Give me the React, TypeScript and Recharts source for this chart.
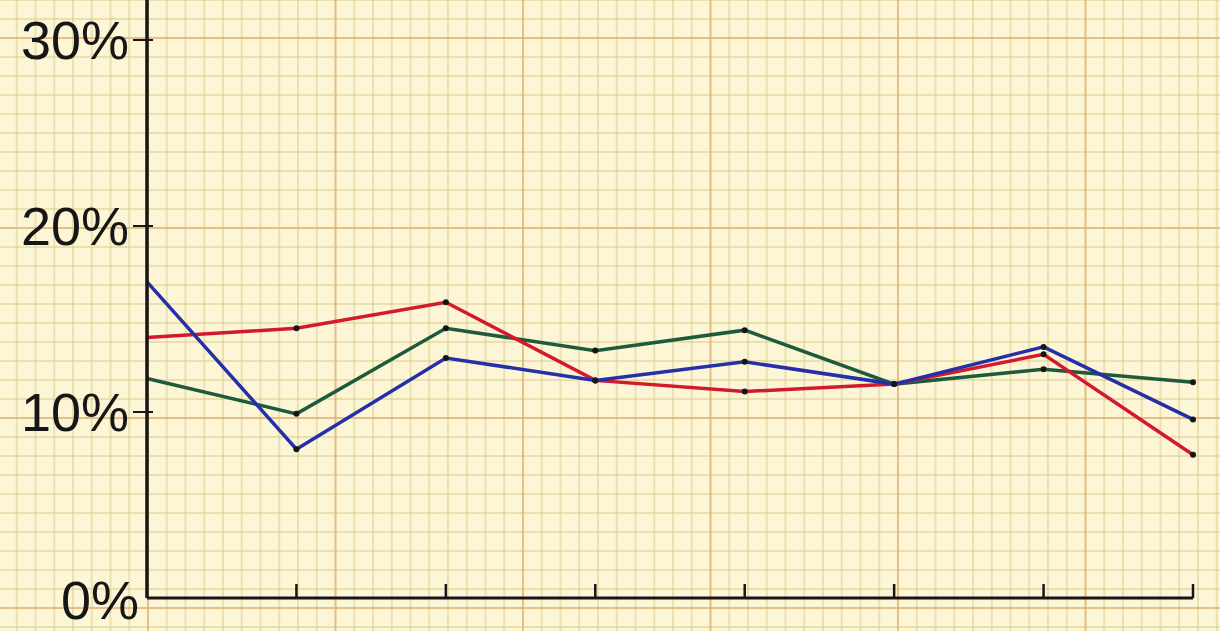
import React from "react";
import { LineChart, Line, XAxis, YAxis } from "recharts";

const periods = ["P1", "P2", "P3", "P4", "P5", "P6", "P7", "P8"];
const redSeries = [14.0, 14.5, 15.9, 11.7, 11.1, 11.5, 13.1, 7.7];
const blueSeries = [17.0, 8.0, 12.9, 11.7, 12.7, 11.5, 13.5, 9.6];
const greenSeries = [11.8, 9.9, 14.5, 13.3, 14.4, 11.5, 12.3, 11.6];
const yTicks = [0, 10, 20, 30];

const data = periods.map((p, i) => ({
  period: p,
  red: redSeries[i],
  blue: blueSeries[i],
  green: greenSeries[i],
}));

const INK = "#161616";

// graph paper look
const paper: React.CSSProperties = {
  position: "absolute",
  left: 0,
  top: 0,
  width: 1220,
  height: 631,
  backgroundColor: "#fcf6d6",
  backgroundImage: [
    "linear-gradient(to right, rgba(226,164,104,0.55) 2px, transparent 2px)",
    "linear-gradient(to bottom, rgba(226,164,104,0.55) 2px, transparent 2px)",
    "linear-gradient(to right, rgba(212,198,128,0.45) 2px, transparent 2px)",
    "linear-gradient(to bottom, rgba(212,198,128,0.45) 2px, transparent 2px)",
  ].join(","),
  backgroundSize: "187.5px 190px, 187.5px 190px, 18.75px 19px, 18.75px 19px",
  backgroundPosition: "147px 37px, 147px 37px, 147px 37px, 147px 37px",
  overflow: "hidden",
};

const YTick = (props: any) => {
  const { x, y, payload } = props;
  const isZero = payload.value === 0;
  return (
    <g>
      {!isZero && <line x1={x - 14} x2={x + 6} y1={y} y2={y} stroke={INK} strokeWidth={2} />}
      <text
        x={isZero ? x - 8 : x - 18}
        y={isZero ? y + 2 : y}
        textAnchor="end"
        dominantBaseline="central"
        fontFamily="'Liberation Sans', Arial, sans-serif"
        fontSize={54}
        fill={INK}
      >
        {payload.value}%
      </text>
    </g>
  );
};

const XTick = (props: any) => {
  const { x, y, index } = props;
  if (index === 0) return null;
  return <line x1={x} x2={x} y1={y} y2={y - 14} stroke={INK} strokeWidth={2.5} />;
};

const Dot = (props: any) => {
  const { cx, cy, index } = props;
  if (index === 0 || cx == null) return null;
  return <circle key={index} cx={cx} cy={cy} r={3} fill={INK} />;
};

export default function App() {
  return (
    <div style={paper}>
      <LineChart
        width={1220}
        height={631}
        data={data}
        margin={{ top: 0, right: 27, left: 0, bottom: 3 }}
      >
        <XAxis
          dataKey="period"
          padding={{ left: 0, right: 0 }}
          axisLine={{ stroke: INK, strokeWidth: 3 }}
          tickLine={false}
          tickSize={0}
          tickMargin={0}
          tick={<XTick />}
          height={30}
          interval={0}
        />
        <YAxis
          width={147}
          domain={[0, 32.15]}
          ticks={yTicks}
          allowDataOverflow
          axisLine={{ stroke: INK, strokeWidth: 3.5 }}
          tickLine={false}
          tickSize={0}
          tickMargin={0}
          tick={<YTick />}
        />
        <Line
          dataKey="green"
          stroke="#1d5b3c"
          strokeWidth={3.5}
          dot={<Dot />}
          isAnimationActive={false}
        />
        <Line
          dataKey="red"
          stroke="#d4182e"
          strokeWidth={3.5}
          dot={<Dot />}
          isAnimationActive={false}
        />
        <Line
          dataKey="blue"
          stroke="#2330a8"
          strokeWidth={3.5}
          dot={<Dot />}
          isAnimationActive={false}
        />
      </LineChart>
    </div>
  );
}
